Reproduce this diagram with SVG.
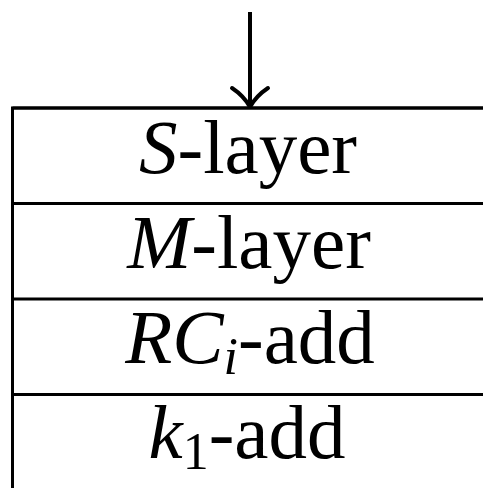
<svg xmlns="http://www.w3.org/2000/svg" width="483" height="488" viewBox="0 0 483 488">
  <style>
    .rule { stroke: #000; stroke-width: 3; fill: none; }
    .lbl { font-family: "Liberation Serif", "DejaVu Serif", serif; font-size: 77px; fill: #000; text-anchor: middle; }
    .it { font-style: italic; }
    .sub { font-size: 52px; }
  </style>
  <rect width="483" height="488" fill="#fff"/>

  <!-- input arrow -->
  <g id="connectors">
    <line x1="250" y1="12" x2="250" y2="104" stroke="#000" stroke-width="4"/>
    <path d="M232,88 Q244,96 250,107 Q256,96 268,88" fill="none" stroke="#000" stroke-width="4" stroke-linecap="round" stroke-linejoin="round"/>
  </g>

  <!-- outer frame (continues past the right and bottom edges) -->
  <g id="frame">
    <path class="rule" d="M12.5,490 V108 H490"/>
  </g>

  <g id="s-layer">
    <line class="rule" x1="12.5" y1="108" x2="490" y2="108"/>
    <text class="lbl" x="248" y="173"><tspan class="it">S</tspan>-layer</text>
  </g>

  <g id="m-layer">
    <line class="rule" x1="12.5" y1="203.5" x2="490" y2="203.5"/>
    <text class="lbl" x="249" y="268"><tspan class="it">M</tspan>-layer</text>
  </g>

  <g id="rc-add">
    <line class="rule" x1="12.5" y1="299" x2="490" y2="299"/>
    <text class="lbl" x="250" y="363"><tspan class="it">RC</tspan><tspan class="it sub" dy="11">i</tspan><tspan dy="-11">-add</tspan></text>
  </g>

  <g id="k1-add">
    <line class="rule" x1="12.5" y1="394.5" x2="490" y2="394.5"/>
    <text class="lbl" x="247" y="458"><tspan class="it">k</tspan><tspan class="sub" dy="11">1</tspan><tspan dy="-11">-add</tspan></text>
  </g>
</svg>
